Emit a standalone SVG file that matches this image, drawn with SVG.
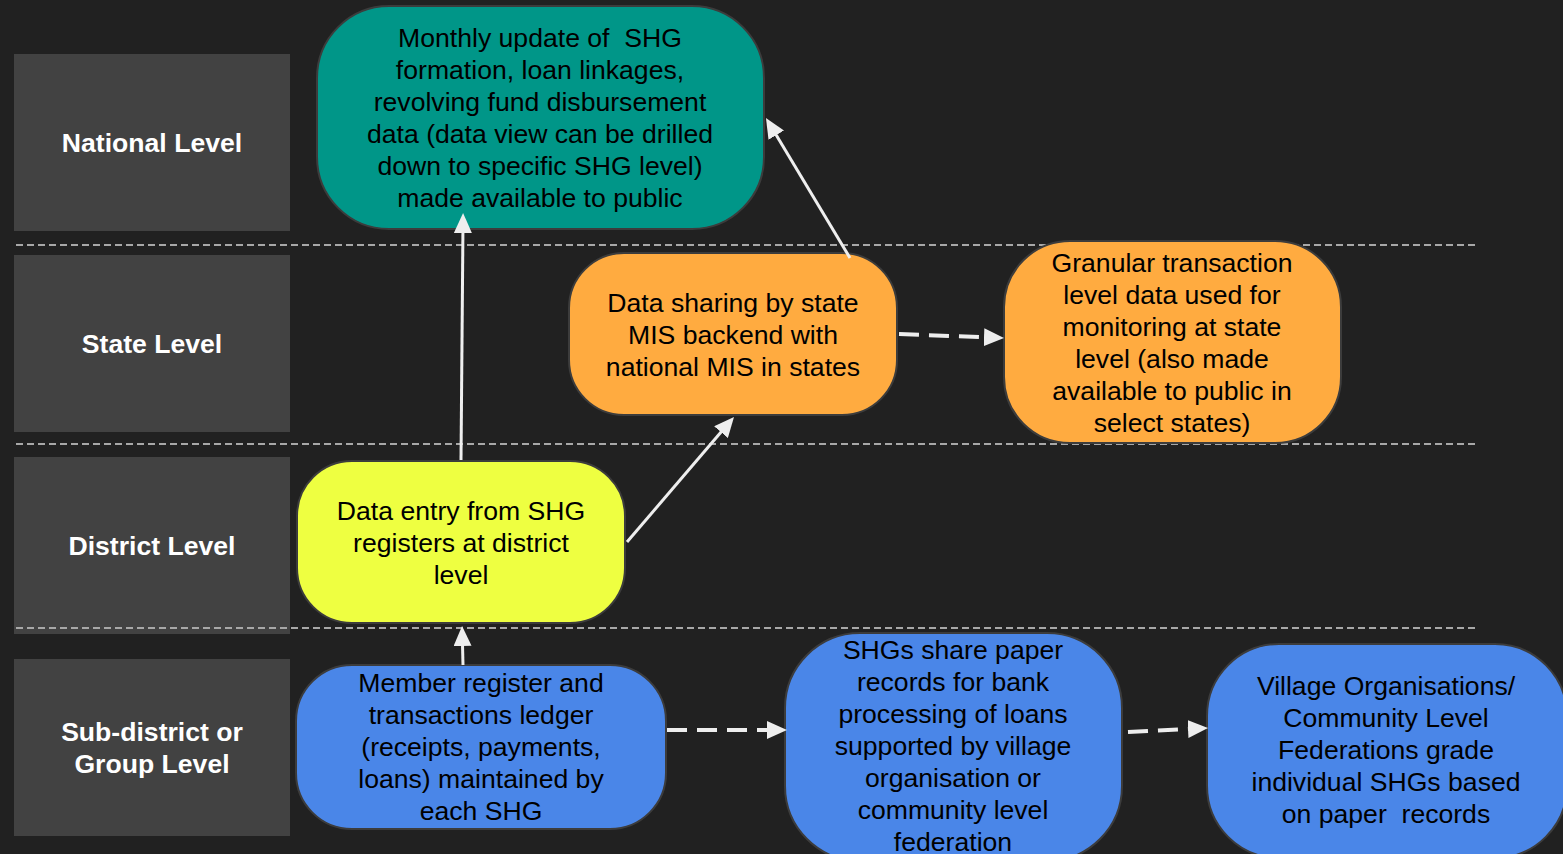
<svg xmlns="http://www.w3.org/2000/svg" width="1563" height="854" viewBox="0 0 1563 854">
<defs>
<style>
.lvl{fill:#424242}
.lvlt{fill:#ffffff;font-family:"Liberation Sans",Arial,sans-serif;font-weight:bold;font-size:26.6px;text-anchor:middle}
.sep{stroke:#a8a8a8;stroke-width:2;stroke-dasharray:7 4;fill:none}
.node{stroke:#3c3c3c;stroke-width:2}
.nt{fill:#000000;font-family:"Liberation Sans",Arial,sans-serif;font-size:26.6px;text-anchor:middle;white-space:pre}
.con{stroke:#eeeeee;stroke-width:3;fill:none}
.dash{stroke:#eeeeee;stroke-width:4;fill:none;stroke-dasharray:20 10}
</style>
<marker id="ah" viewBox="0 0 20 18" refX="10" refY="9" markerWidth="20" markerHeight="18" markerUnits="userSpaceOnUse" orient="auto">
<path d="M0,0 L20,9 L0,18 z" fill="#eeeeee"/>
</marker>
</defs>
<rect x="0" y="0" width="1563" height="854" fill="#212121"/>

<g id="levels">
<g id="lvl-national"><rect class="lvl" x="14" y="54" width="276" height="177"/><text class="lvlt" x="152" y="152">National Level</text></g>
<g id="lvl-state"><rect class="lvl" x="14" y="255" width="276" height="177"/><text class="lvlt" x="152" y="353">State Level</text></g>
<g id="lvl-district"><rect class="lvl" x="14" y="457" width="276" height="177"/><text class="lvlt" x="152" y="555">District Level</text></g>
<g id="lvl-sub"><rect class="lvl" x="14" y="659" width="276" height="177"/><text class="lvlt" x="152" y="741">Sub-district or</text><text class="lvlt" x="152" y="773">Group Level</text></g>
</g>

<g id="separators">
<line class="sep" x1="16" y1="245" x2="1478" y2="245"/>
<line class="sep" x1="16" y1="444" x2="1478" y2="444"/>
<line class="sep" x1="16" y1="628" x2="1478" y2="628"/>
</g>

<g id="n-national">
<rect class="node" x="317" y="6" width="447" height="223" rx="72" fill="#009688"/>
<text class="nt" x="540" y="47" xml:space="preserve">Monthly update of  SHG</text>
<text class="nt" x="540" y="79">formation, loan linkages,</text>
<text class="nt" x="540" y="111">revolving fund disbursement</text>
<text class="nt" x="540" y="143">data (data view can be drilled</text>
<text class="nt" x="540" y="175">down to specific SHG level)</text>
<text class="nt" x="540" y="207">made available to public</text>
</g>

<g id="n-state-share">
<rect class="node" x="569" y="253" width="328" height="162" rx="55" fill="#ffab40"/>
<text class="nt" x="733" y="312">Data sharing by state</text>
<text class="nt" x="733" y="344">MIS backend with</text>
<text class="nt" x="733" y="376">national MIS in states</text>
</g>

<g id="n-state-granular">
<rect class="node" x="1004" y="241" width="337" height="202" rx="66" fill="#ffab40"/>
<text class="nt" x="1172" y="272">Granular transaction</text>
<text class="nt" x="1172" y="304">level data used for</text>
<text class="nt" x="1172" y="336">monitoring at state</text>
<text class="nt" x="1172" y="368">level (also made</text>
<text class="nt" x="1172" y="400">available to public in</text>
<text class="nt" x="1172" y="432">select states)</text>
</g>

<g id="n-district">
<rect class="node" x="297" y="461" width="328" height="162" rx="55" fill="#eeff41"/>
<text class="nt" x="461" y="520">Data entry from SHG</text>
<text class="nt" x="461" y="552">registers at district</text>
<text class="nt" x="461" y="584">level</text>
</g>

<g id="n-member">
<rect class="node" x="296" y="665" width="370" height="164" rx="56" fill="#4a86e8"/>
<text class="nt" x="481" y="692">Member register and</text>
<text class="nt" x="481" y="724">transactions ledger</text>
<text class="nt" x="481" y="756">(receipts, payments,</text>
<text class="nt" x="481" y="788">loans) maintained by</text>
<text class="nt" x="481" y="820">each SHG</text>
</g>

<g id="n-share-paper">
<rect class="node" x="785" y="633" width="337" height="228" rx="75" fill="#4a86e8"/>
<text class="nt" x="953" y="659">SHGs share paper</text>
<text class="nt" x="953" y="691">records for bank</text>
<text class="nt" x="953" y="723">processing of loans</text>
<text class="nt" x="953" y="755">supported by village</text>
<text class="nt" x="953" y="787">organisation or</text>
<text class="nt" x="953" y="819">community level</text>
<text class="nt" x="953" y="851">federation</text>
</g>

<g id="n-grade">
<rect class="node" x="1207" y="644" width="360" height="214" rx="72" fill="#4a86e8"/>
<text class="nt" x="1386" y="695">Village Organisations/</text>
<text class="nt" x="1386" y="727">Community Level</text>
<text class="nt" x="1386" y="759">Federations grade</text>
<text class="nt" x="1386" y="791">individual SHGs based</text>
<text class="nt" x="1386" y="823" xml:space="preserve">on paper  records</text>
</g>

<g id="connectors">
<line class="con" x1="461" y1="460" x2="463" y2="223" marker-end="url(#ah)"/>
<line class="con" x1="627" y1="542" x2="727.5" y2="424.6" marker-end="url(#ah)"/>
<line class="con" x1="850" y1="258" x2="771.1" y2="126.6" marker-end="url(#ah)"/>
<line class="con" x1="463" y1="665" x2="462.3" y2="636" marker-end="url(#ah)"/>
<line class="dash" x1="899" y1="334" x2="994" y2="337.6" marker-end="url(#ah)"/>
<line class="dash" x1="667" y1="730" x2="777" y2="730" marker-end="url(#ah)"/>
<line class="dash" x1="1128" y1="732" x2="1198" y2="728.5" marker-end="url(#ah)"/>
</g>
</svg>
